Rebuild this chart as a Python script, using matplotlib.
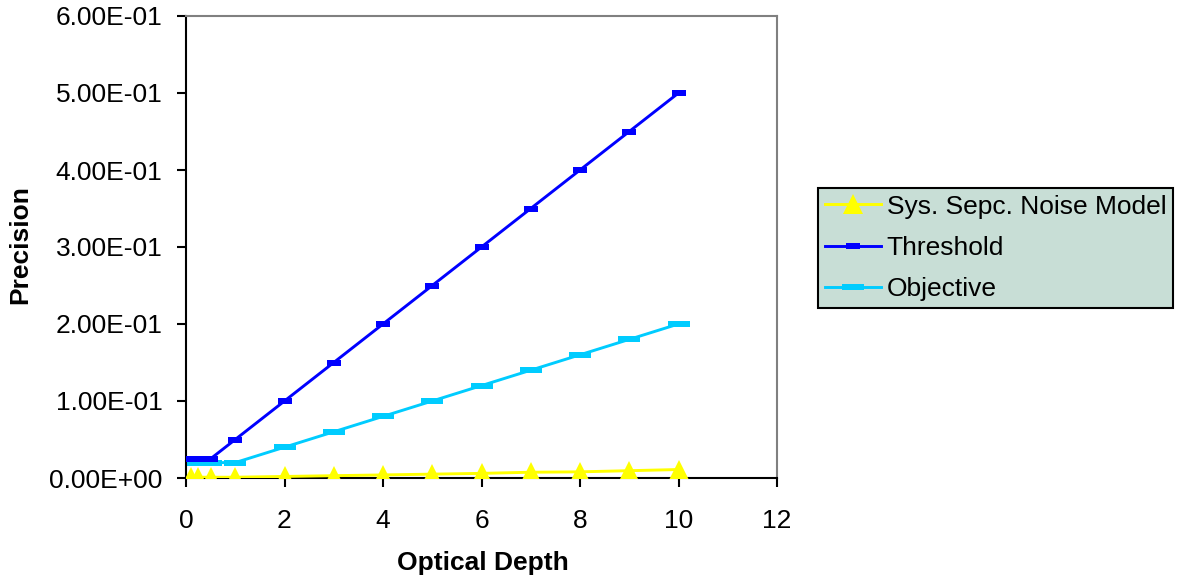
import numpy as np
import matplotlib.pyplot as plt
import matplotlib.ticker as mticker

plt.rcParams['font.family'] = ['Liberation Sans', 'DejaVu Sans']

depth = [0.1, 0.25, 0.5, 1, 2, 3, 4, 5, 6, 7, 8, 9, 10]
noise_model = [0.001, 0.001, 0.001, 0.001, 0.002, 0.003, 0.004, 0.005,
               0.006, 0.0075, 0.008, 0.0095, 0.011]
threshold = [0.025, 0.025, 0.025, 0.05, 0.10, 0.15, 0.20, 0.25,
             0.30, 0.35, 0.40, 0.45, 0.50]
objective = [0.02, 0.02, 0.02, 0.02, 0.04, 0.06, 0.08, 0.10,
             0.12, 0.14, 0.16, 0.18, 0.20]

# marcadores tipo "guion" de Excel
dash_thr = [(-1, -0.5), (1, -0.5), (1, 0.5), (-1, 0.5), (-1, -0.5)]
dash_obj = [(-1, -0.3), (1, -0.3), (1, 0.3), (-1, 0.3), (-1, -0.3)]

fs = 19

fig = plt.figure(figsize=(11.89, 5.8), dpi=100)
ax = fig.add_axes([186/1189, 1-478/580, (777-186)/1189, (478-16)/580])

ax.plot(depth, noise_model, '-', color='#ffff00', lw=2.1, marker='^',
        markersize=15, markeredgewidth=0, label='Sys. Sepc. Noise Model', zorder=3)
ax.plot(depth, threshold, '-', color='#0000ff', lw=2.1, marker=dash_thr,
        markersize=10, markeredgewidth=0, label='Threshold', zorder=4)
ax.plot(depth, objective, '-', color='#00ccff', lw=2.1, marker=dash_obj,
        markersize=16, markeredgewidth=0, label='Objective', zorder=2)

ax.set_xlim(0, 12)
ax.set_ylim(0, 0.6)
ax.xaxis.set_major_locator(mticker.MultipleLocator(2))
ax.yaxis.set_major_locator(mticker.MultipleLocator(0.1))
ax.yaxis.set_major_formatter(mticker.FuncFormatter(lambda v, p: '%.2E' % v))
ax.tick_params(direction='out', length=6.5, width=1.5, labelsize=fs)
ax.tick_params(axis='y', pad=10.5)
ax.tick_params(axis='x', pad=15.5)

for s in ['left', 'bottom']:
    ax.spines[s].set_color('black')
    ax.spines[s].set_linewidth(1.5)
for s in ['top', 'right']:
    ax.spines[s].set_color('#808080')
    ax.spines[s].set_linewidth(1.5)

fig.text(483/1189, 1-563/580, 'Optical Depth', fontsize=fs, fontweight='bold',
         ha='center', va='center')
fig.text(20/1189, 1-245/580, 'Precision', fontsize=fs, fontweight='bold',
         ha='center', va='center', rotation=90)

leg = fig.legend(loc='upper left', bbox_to_anchor=(818/1189, 1-188/580),
                 frameon=True, fancybox=False, fontsize=fs, handlelength=2.15,
                 borderpad=0.25, labelspacing=0.66, handletextpad=0.2,
                 borderaxespad=0)
leg.get_frame().set_facecolor('#c8ded6')
leg.get_frame().set_edgecolor('black')
leg.get_frame().set_linewidth(1.5)
leg.get_frame().set_alpha(1)

fig.savefig('out.png', dpi=100)
